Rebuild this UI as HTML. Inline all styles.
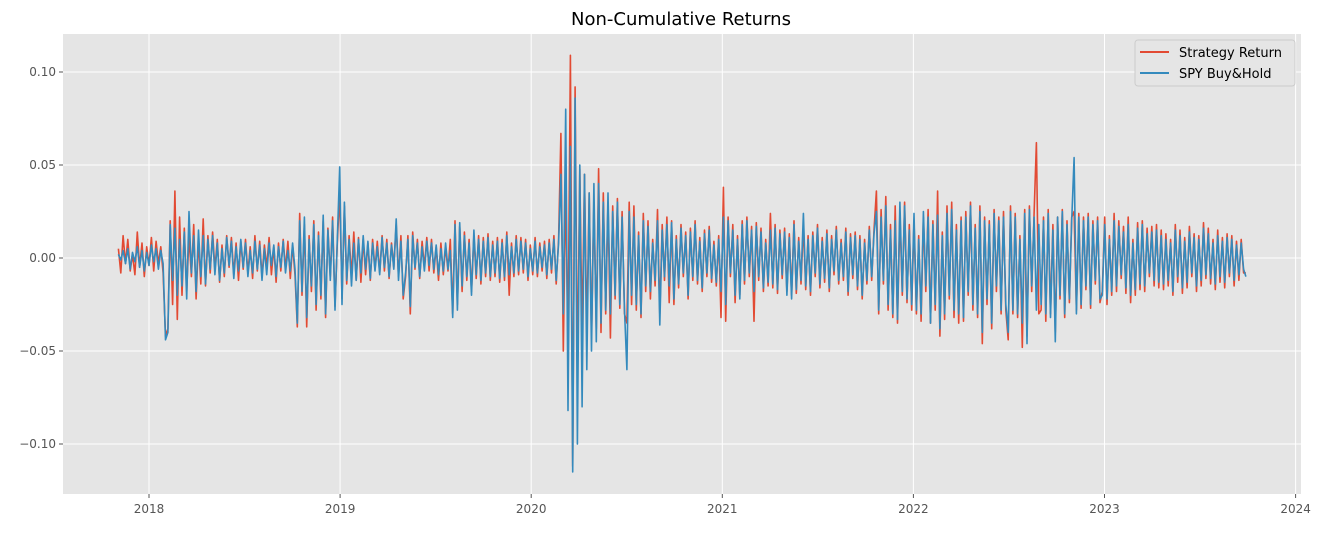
<!DOCTYPE html>
<html><head><meta charset="utf-8"><style>
body{margin:0;background:#fff;width:1322px;height:529px;overflow:hidden}
svg{font-family:"DejaVu Sans","Liberation Sans",sans-serif}
</style></head><body>
<svg id="c" width="1322" height="529">
<text x="681" y="25" text-anchor="middle" font-size="18" fill="#000">Non-Cumulative Returns</text>
<rect x="63" y="34" width="1238" height="460" fill="#E5E5E5"/>
<g id="grid"></g><g id="series"></g><g id="axes"></g>
<g>
<rect x="1135" y="40" width="160" height="46" rx="3" fill="#E5E5E5" stroke="#ccc" stroke-width="1"/>
<line x1="1140" y1="52" x2="1169" y2="52" stroke="#E24A33" stroke-width="2"/>
<text x="1179" y="57" font-size="13" fill="#000">Strategy Return</text>
<line x1="1140" y1="73" x2="1169" y2="73" stroke="#348ABD" stroke-width="2"/>
<text x="1179" y="78" font-size="13" fill="#000">SPY Buy&amp;Hold</text>
</g>
</svg>
<script>
const xTicks=[2018,2019,2020,2021,2022,2023,2024];
const yTicks=[-0.10,-0.05,0.00,0.05,0.10];
const yTickLabels=["\u22120.10","\u22120.05","0.00","0.05","0.10"];
const startYear=2017.84, endYear=2023.74;
const spy=[2,-1,4,-3,5,-6,3,-2,6,-5,4,-7,3,-4,7,-2,5,-6,4,-3,
-44,-40,18,-12,16,-20,10,-15,14,-22,25,-8,12,-18,15,-10,12,-14,
10,-6,12,-9,8,-12,5,-8,11,-4,9,-11,6,-7,10,-5,8,-10,4,-8,9,-6,7,-12,5,-9,8,-4,7,-10,6,-5,9,-8,4,-7,8,-6,
-35,20,-18,22,-32,10,-15,18,-25,12,-20,23,-30,15,-12,20,-28,10,
49,-25,30,-12,10,-15,8,-12,10,-8,12,-6,9,-11,8,-7,6,-9,11,-5,8,-10,7,-6,21,-12,9,-20,
-8,10,-26,12,-5,8,-10,6,-7,9,-4,8,-6,7,-9,5,-7,8,-6,4,
-32,18,-28,19,-15,12,-10,8,-20,15,-9,10,-12,9,-8,11,-10,7,-8,9,-11,8,-10,12,-9,6,-8,10,-7,9,-6,8,-10,5,-7,9,-8,6,-5,7,-9,8,-6,10,-12,8,
45,-30,80,-82,60,-115,86,-100,50,-80,45,-60,35,-50,40,-45,
40,-35,30,-28,35,-30,25,-20,30,-25,22,-28,
-60,25,-20,22,-25,12,-30,20,-15,17,-18,8,-12,20,-36,15,-10,18,-15,19,-22,10,-14,16,-8,12,-20,14,-10,18,-12,9,-16,13,-8,15,-11,7,-13,10,
-18,22,-25,20,-8,15,-20,10,-22,18,-12,20,-8,15,-18,17,-10,14,-16,8,-13,15,-14,16,-17,13,-9,14,-20,11,-22,18,-17,9,-12,24,-15,10,-18,12,-8,16,-14,9,-11,13,-16,10,-7,15,-12,8,-10,14,-18,11,-9,12,-15,10,-20,8,-12,15,-10,13,
25,-28,22,-12,28,-25,15,-30,20,-33,30,-18,28,-22,15,-25,
24,-28,10,-30,25,-15,22,-35,18,-25,23,-38,12,-30,24,-20,26,-28,15,-30,20,-32,22,-18,28,-25,16,-30,25,-40,20,-22,18,-35,24,-15,20,-28,22,-25,
-40,25,-28,22,-30,10,-35,24,-46,26,-15,22,-28,18,-25,20,-30,24,-32,15,-45,22,-20,25,-30,18,-22,20,
54,-30,22,-25,20,-15,22,-25,18,-12,20,-22,
-20,18,-22,10,-18,20,-15,17,-9,14,-16,18,-20,8,-17,16,-14,18,-15,13,-8,14,-12,15,-13,12,-14,10,-12,8,-18,15,-10,12,-16,9,-13,14,-8,11,-15,10,-12,16,-9,13,-11,8,-14,12,-10,9,-13,11,-8,10,-12,7,-9,8,-6,-10];
const strategy=[5,-8,12,-3,10,-7,2,-9,14,-5,8,-10,6,-4,11,-7,9,-3,6,-8,
-42,-38,20,-25,36,-33,22,-20,16,-18,12,-10,18,-22,10,-14,21,-15,
12,-8,14,-6,10,-13,7,-10,12,-5,11,-9,8,-12,9,-6,10,-8,6,-11,12,-7,9,-10,7,-5,11,-9,6,-13,8,-7,10,-6,9,-11,7,-9,
-37,24,-20,18,-37,12,-18,20,-28,14,-22,20,-32,16,-10,22,-26,8,
35,-22,28,-14,12,-10,14,-12,11,-13,10,-9,8,-12,10,-6,9,-8,12,-7,10,-11,8,-5,18,-10,12,-22,
-10,12,-30,14,-6,10,-11,9,-5,11,-7,10,-8,6,-12,8,-9,6,-7,10,
-30,20,-25,17,-18,14,-12,10,-18,12,-11,12,-14,11,-10,13,-12,9,-10,11,-13,10,-12,14,-20,8,-10,12,-9,11,-8,10,-12,7,-9,11,-10,8,-7,9,-11,10,-8,12,-14,10,
67,-50,40,-48,109,-112,92,-65,48,-42,45,-40,35,-43,30,-38,
48,-40,35,-30,30,-43,28,-22,32,-27,25,-30,
-35,30,-25,28,-28,14,-32,24,-18,20,-22,10,-15,26,-30,18,-12,22,-24,20,-25,12,-16,18,-10,14,-22,16,-12,20,-14,11,-18,15,-10,17,-13,9,-15,12,
-32,38,-34,22,-10,18,-24,12,-20,20,-14,22,-10,17,-34,19,-12,16,-18,10,-15,24,-16,18,-19,15,-11,16,-18,13,-20,20,-19,11,-14,18,-17,12,-20,14,-10,18,-16,11,-13,15,-18,12,-9,17,-14,10,-12,16,-20,13,-11,14,-17,12,-22,10,-14,17,-12,15,
36,-30,26,-14,33,-28,18,-32,28,-35,24,-20,30,-24,18,-28,
20,-30,12,-34,22,-18,26,-35,20,-28,36,-42,14,-33,28,-22,30,-32,18,-35,22,-34,25,-20,30,-28,18,-32,28,-46,22,-25,20,-38,26,-18,22,-30,25,-28,
-44,28,-30,24,-32,12,-48,26,-42,28,-18,24,62,-30,-28,22,-34,26,-30,18,-40,22,-22,26,-32,20,-24,22,
25,-28,24,-27,22,-17,24,-27,20,-14,22,-24,
-18,22,-25,12,-20,24,-18,20,-11,17,-19,22,-24,10,-20,19,-17,20,-18,16,-10,17,-15,18,-16,15,-17,13,-15,10,-20,18,-13,15,-19,11,-16,17,-10,13,-18,12,-15,19,-11,16,-14,10,-17,15,-13,11,-16,13,-10,12,-15,9,-12,10,-8,-8];
const NS="http://www.w3.org/2000/svg";
const X=t=>149+(t-2018)*191.1;
const Y=v=>258-v*1860;
const grid=document.getElementById('grid'),axes=document.getElementById('axes'),ser=document.getElementById('series');
function mk(tag,attrs,parent){const e=document.createElementNS(NS,tag);for(const k in attrs)e.setAttribute(k,attrs[k]);parent.appendChild(e);return e;}
xTicks.forEach(t=>{
 const l=mk('line',{x1:X(t),x2:X(t),y1:34,y2:494,stroke:'#fff','stroke-width':1},grid);
 
 
 mk('line',{x1:X(t),x2:X(t),y1:494,y2:498,stroke:'#555'},axes);
 const tx=mk('text',{x:X(t),y:513,'text-anchor':'middle','font-size':12,fill:'#555'},axes);
 tx.textContent=t;
 
 
});
yTicks.forEach((v,i)=>{
 const l=mk('line',{x1:63,x2:1301,y1:Y(v),y2:Y(v),stroke:'#fff','stroke-width':1},grid);
 
 
 mk('line',{x1:59,x2:63,y1:Y(v),y2:Y(v),stroke:'#555'},axes);
 const tx=mk('text',{x:56,y:Y(v)+4,'text-anchor':'end','font-size':12,fill:'#555'},axes);
 tx.textContent=yTickLabels[i];
 
 
});
function draw(arr,color,name){
 const n=arr.length;
 const pts=arr.map((v,i)=>X(startYear+(endYear-startYear)*i/(n-1)).toFixed(1)+','+Y(v/1000).toFixed(1)).join(' ');
 const p=mk('polyline',{points:pts,fill:'none',stroke:color,'stroke-width':1.6,'stroke-linejoin':'round'},ser);
 
 
}
draw(strategy,'#E24A33','strategy-return-line');
draw(spy,'#348ABD','spy-buyhold-line');
</script>
</body></html>
